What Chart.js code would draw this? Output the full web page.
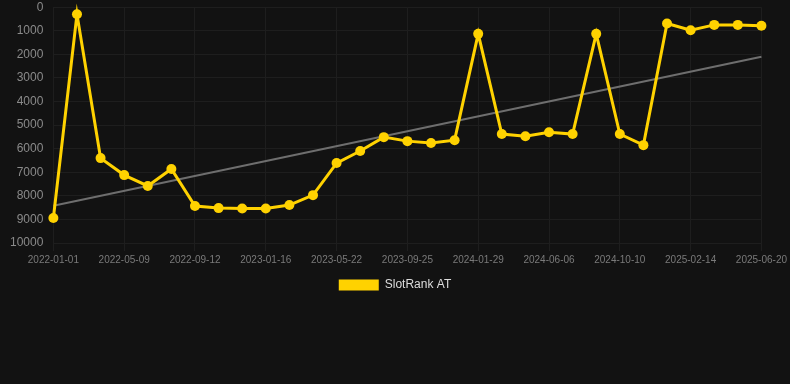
<!DOCTYPE html>
<html>
<head>
<meta charset="utf-8">
<script src="https://cdn.jsdelivr.net/npm/chart.js@4"></script>
<style>
  html, body { margin: 0; padding: 0; background: #121212; }
  #wrap { width: 790px; height: 301px; position: relative; }
</style>
</head>
<body>
<div id="wrap"><canvas id="rankChart"></canvas></div>
<script>
// ===== DATA =====
const dateLabels = [
    '2022-01-01', '2022-02-13', '2022-03-28', '2022-05-09', '2022-06-20', '2022-08-01',
    '2022-09-12', '2022-10-24', '2022-12-05', '2023-01-16', '2023-02-27', '2023-04-10',
    '2023-05-22', '2023-07-03', '2023-08-14', '2023-09-25', '2023-11-06', '2023-12-18',
    '2024-01-29', '2024-03-11', '2024-04-22', '2024-06-06', '2024-07-18', '2024-08-29',
    '2024-10-10', '2024-11-21', '2025-01-02', '2025-02-14', '2025-03-28', '2025-05-09',
    '2025-06-20'
];
const rankValues = [
    8940, 300, 6400, 7120, 7580, 6860,
    8430, 8520, 8540, 8540, 8390, 7970,
    6610, 6100, 5510, 5680, 5760, 5640,
    1130, 5380, 5470, 5300, 5380, 1130,
    5380, 5850, 690, 975, 750, 750,
    790
];
// trend line end points (first and last date)
const trendValues = [8420, 2100];
const yTicks = [0, 1000, 2000, 3000, 4000, 5000, 6000, 7000, 8000, 9000, 10000];

const FONT = 'Liberation Sans, Arial, sans-serif';

// ===== CHART =====
function initChart() {
    const ctx = document.getElementById('rankChart');
    new Chart(ctx, {
        type: 'line',
        data: {
            labels: dateLabels,
            datasets: [
                {
                    label: 'SlotRank AT',
                    data: rankValues,
                    borderColor: '#ffd200',
                    backgroundColor: '#ffd200',
                    borderWidth: 3,
                    pointRadius: 5,
                    pointBackgroundColor: '#ffd200',
                    pointBorderWidth: 0,
                    tension: 0,
                    fill: false,
                    clip: false
                },
                {
                    label: 'Trend',
                    data: [
                        { x: dateLabels[0], y: trendValues[0] },
                        { x: dateLabels[dateLabels.length - 1], y: trendValues[1] }
                    ],
                    borderColor: '#6e6e6e',
                    borderWidth: 2,
                    pointRadius: 0,
                    fill: false
                }
            ]
        },
        options: {
            responsive: true,
            maintainAspectRatio: false,
            animation: false,
            layout: { autoPadding: false, padding: 0 },
            plugins: {
                legend: {
                    position: 'bottom',
                    labels: {
                        color: '#dddddd',
                        font: { family: FONT, size: 12 },
                        boxWidth: 40,
                        boxHeight: 11,
                        padding: 10,
                        generateLabels: (chart) => Chart.defaults.plugins.legend.labels.generateLabels(chart)
                            .filter(item => item.datasetIndex === 0)
                            .map(item => Object.assign(item, { lineWidth: 0 }))
                    }
                },
                tooltip: { enabled: false }
            },
            scales: {
                x: {
                    ticks: {
                        color: '#7a7a7a',
                        font: { family: FONT, size: 10 },
                        maxRotation: 0,
                        autoSkip: false,
                        callback: function(v, i) { return i % 3 === 0 ? dateLabels[i] : null; }
                    },
                    grid: { color: '#1e1e1e', drawTicks: true, tickLength: 8 },
                    border: { display: false }
                },
                y: {
                    reverse: true,
                    min: 0,
                    max: 10000,
                    afterBuildTicks: (axis) => { axis.ticks = yTicks.map(v => ({ value: v })); },
                    // keep the label gap on the left but not above the plot
                    afterFit: (axis) => {
                        axis.paddingTop = Math.max(0, axis.paddingTop - 10);
                        axis.paddingBottom = Math.max(0, axis.paddingBottom - 10);
                    },
                    ticks: {
                        color: '#8a8a8a',
                        font: { family: FONT, size: 12 },
                        padding: 10,
                        callback: (v) => String(v)
                    },
                    grid: { color: '#1e1e1e', drawTicks: false },
                    border: { display: false }
                }
            }
        }
    });
}

initChart();
</script>
</body>
</html>
